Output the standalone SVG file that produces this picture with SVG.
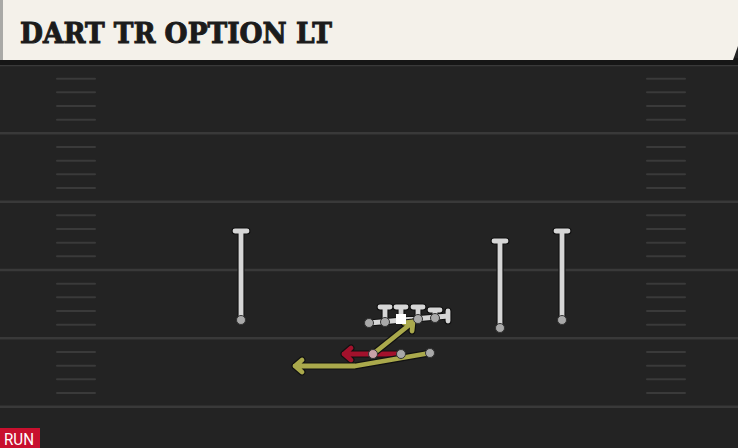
<svg xmlns="http://www.w3.org/2000/svg" width="738" height="448" viewBox="0 0 738 448">
<defs>
<style>
.yard{stroke:#393939;stroke-width:2.5}
.hash{stroke:#3a3a3a;stroke-width:2;stroke-linecap:round}
.out{fill:none;stroke:#111;stroke-width:7;stroke-linecap:round;stroke-linejoin:round}
.wht{fill:none;stroke:#d6d6d6;stroke-width:4.8;stroke-linecap:round;stroke-linejoin:round}
.yel{fill:none;stroke:#aaa94c;stroke-width:4.8;stroke-linecap:round;stroke-linejoin:round}
.red{fill:none;stroke:#a3112c;stroke-width:4.8;stroke-linecap:round;stroke-linejoin:round}
.dot{fill:#a9a9a9;stroke:#333;stroke-width:1}
</style>
</defs>
<rect x="0" y="0" width="738" height="448" fill="#232323"/>
<g id="field">
<line class="yard" x1="0" y1="65" x2="738" y2="65"/>
<line class="yard" x1="0" y1="133.3" x2="738" y2="133.3"/>
<line class="yard" x1="0" y1="201.7" x2="738" y2="201.7"/>
<line class="yard" x1="0" y1="270" x2="738" y2="270"/>
<line class="yard" x1="0" y1="338.3" x2="738" y2="338.3"/>
<line class="yard" x1="0" y1="406.7" x2="738" y2="406.7"/>
<g id="hashL">
<line class="hash" x1="57" y1="78.7" x2="95" y2="78.7"/><line class="hash" x1="57" y1="92.3" x2="95" y2="92.3"/><line class="hash" x1="57" y1="106" x2="95" y2="106"/><line class="hash" x1="57" y1="119.7" x2="95" y2="119.7"/>
<line class="hash" x1="57" y1="147" x2="95" y2="147"/><line class="hash" x1="57" y1="160.7" x2="95" y2="160.7"/><line class="hash" x1="57" y1="174.3" x2="95" y2="174.3"/><line class="hash" x1="57" y1="188" x2="95" y2="188"/>
<line class="hash" x1="57" y1="215.3" x2="95" y2="215.3"/><line class="hash" x1="57" y1="229" x2="95" y2="229"/><line class="hash" x1="57" y1="242.7" x2="95" y2="242.7"/><line class="hash" x1="57" y1="256.3" x2="95" y2="256.3"/>
<line class="hash" x1="57" y1="283.7" x2="95" y2="283.7"/><line class="hash" x1="57" y1="297.3" x2="95" y2="297.3"/><line class="hash" x1="57" y1="311" x2="95" y2="311"/><line class="hash" x1="57" y1="324.7" x2="95" y2="324.7"/>
<line class="hash" x1="57" y1="352" x2="95" y2="352"/><line class="hash" x1="57" y1="365.7" x2="95" y2="365.7"/><line class="hash" x1="57" y1="379.3" x2="95" y2="379.3"/><line class="hash" x1="57" y1="393" x2="95" y2="393"/>
</g>
<g id="hashR">
<line class="hash" x1="647" y1="78.7" x2="685" y2="78.7"/><line class="hash" x1="647" y1="92.3" x2="685" y2="92.3"/><line class="hash" x1="647" y1="106" x2="685" y2="106"/><line class="hash" x1="647" y1="119.7" x2="685" y2="119.7"/>
<line class="hash" x1="647" y1="147" x2="685" y2="147"/><line class="hash" x1="647" y1="160.7" x2="685" y2="160.7"/><line class="hash" x1="647" y1="174.3" x2="685" y2="174.3"/><line class="hash" x1="647" y1="188" x2="685" y2="188"/>
<line class="hash" x1="647" y1="215.3" x2="685" y2="215.3"/><line class="hash" x1="647" y1="229" x2="685" y2="229"/><line class="hash" x1="647" y1="242.7" x2="685" y2="242.7"/><line class="hash" x1="647" y1="256.3" x2="685" y2="256.3"/>
<line class="hash" x1="647" y1="283.7" x2="685" y2="283.7"/><line class="hash" x1="647" y1="297.3" x2="685" y2="297.3"/><line class="hash" x1="647" y1="311" x2="685" y2="311"/><line class="hash" x1="647" y1="324.7" x2="685" y2="324.7"/>
<line class="hash" x1="647" y1="352" x2="685" y2="352"/><line class="hash" x1="647" y1="365.7" x2="685" y2="365.7"/><line class="hash" x1="647" y1="379.3" x2="685" y2="379.3"/><line class="hash" x1="647" y1="393" x2="685" y2="393"/>
</g>
</g>
<g id="header">
<rect x="0" y="58" width="738" height="7" fill="#161616"/>
<path d="M0 0 H738 V46 L733 60 H0 Z" fill="#f4f1ea"/>
<rect x="0" y="0" width="3" height="60" fill="#a9a9a6"/>
<text x="20" y="43" font-family="DejaVu Serif, serif" font-weight="bold" font-size="28" fill="#1b1b1b" stroke="#1b1b1b" stroke-width="1" textLength="312" lengthAdjust="spacingAndGlyphs">DART TR OPTION LT</text>
</g>
<g id="connectors">
<path class="out" d="M241 320 V231 M235 231 H247"/>
<path class="wht" d="M241 320 V231 M235 231 H247"/>
<path class="out" d="M500 328 V241 M494 241 H506"/>
<path class="wht" d="M500 328 V241 M494 241 H506"/>
<path class="out" d="M562 320 V231 M556 231 H568"/>
<path class="wht" d="M562 320 V231 M556 231 H568"/>
<path class="out" d="M369 323 L448 316 M448 311 V321 M385 322 V307 M380 307 H390 M401 319 V307 M396 307 H406 M418 318 V307 M413 307 H423 M435 317 V310 M430 310 H440"/>
<path class="wht" d="M369 323 L448 316 M448 311 V321 M385 322 V307 M380 307 H390 M401 319 V307 M396 307 H406 M418 318 V307 M413 307 H423 M435 317 V310 M430 310 H440"/>
<path class="out" d="M401 354 H344 M351 348 L344 354 L351 360"/>
<path class="red" d="M401 354 H344 M351 348 L344 354 L351 360"/>
<path class="out" d="M373 354 L413 322 M404 323 L413 322 L412 331"/>
<path class="yel" d="M373 354 L413 322 M404 323 L413 322 L412 331"/>
<path class="out" d="M430 353 L355 366 H295 M302 360 L295 366 L302 372"/>
<path class="yel" d="M430 353 L355 366 H295 M302 360 L295 366 L302 372"/>
</g>
<g id="players">
<circle class="dot" cx="241" cy="320" r="4.5"/>
<circle class="dot" cx="500" cy="328" r="4.5"/>
<circle class="dot" cx="562" cy="320" r="4.5"/>
<circle class="dot" cx="369" cy="323" r="4.5"/>
<circle class="dot" cx="385" cy="322" r="4.5"/>
<rect x="396" y="314" width="10" height="10" fill="#ffffff"/>
<circle class="dot" cx="418" cy="319" r="4.5"/>
<circle class="dot" cx="435" cy="318" r="4.5"/>
<circle cx="373" cy="354" r="4.5" fill="#c9a1a8" stroke="#333" stroke-width="1"/>
<circle class="dot" cx="401" cy="354" r="4.5"/>
<circle class="dot" cx="430" cy="353" r="4.5"/>
</g>
<g id="badge">
<rect x="0" y="428" width="40" height="20" fill="#c8102e"/>
<text x="4" y="445" font-family="Roboto, sans-serif" font-size="16" fill="#ffffff" textLength="30" lengthAdjust="spacingAndGlyphs">RUN</text>
</g>
</svg>
